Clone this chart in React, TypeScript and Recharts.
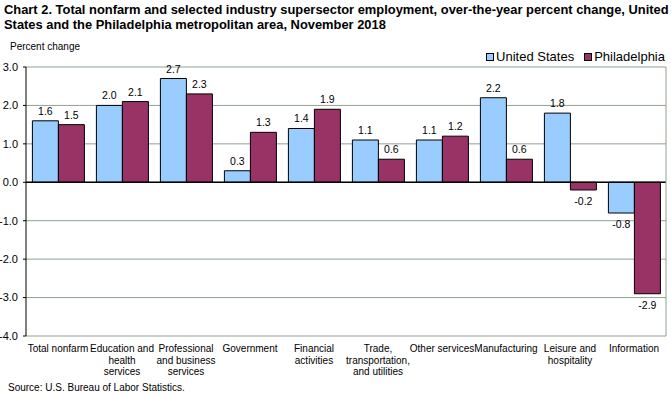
import { BarChart, Bar, XAxis, YAxis, CartesianGrid, ReferenceLine, LabelList } from "recharts";

const categories = [
  ["Total nonfarm"],
  ["Education and", "health", "services"],
  ["Professional", "and business", "services"],
  ["Government"],
  ["Financial", "activities"],
  ["Trade,", "transportation,", "and utilities"],
  ["Other services"],
  ["Manufacturing"],
  ["Leisure and", "hospitality"],
  ["Information"],
];
const unitedStates = [1.6, 2.0, 2.7, 0.3, 1.4, 1.1, 1.1, 2.2, 1.8, -0.8];
const philadelphia = [1.5, 2.1, 2.3, 1.3, 1.9, 0.6, 1.2, 0.6, -0.2, -2.9];
const yTicks = [-4, -3, -2, -1, 0, 1, 2, 3];

const US_COLOR = "#99ccff";
const PHL_COLOR = "#993366";
const GRID = "#8fa38f";
const FONT = "Arial, 'Liberation Sans', sans-serif";

const data = categories.map((c, i) => ({
  name: c.join(" "),
  lines: c,
  us: unitedStates[i],
  phl: philadelphia[i],
}));

function ValueLabel(props: any) {
  const { x, y, width, height, value } = props;
  const top = Math.min(y, y + height);
  const bottom = Math.max(y, y + height);
  const ty = value < 0 ? bottom + 15 : top - 6;
  return (
    <text x={x + width / 2} y={ty} textAnchor="middle" fontSize={10.5} fontFamily={FONT} fill="#000">
      {value.toFixed(1)}
    </text>
  );
}

function CategoryTick(props: any) {
  const { x, y, payload, index } = props;
  const lines = data[index]?.lines ?? [payload.value];
  return (
    <text x={x} y={y} textAnchor="middle" fontSize={10} fontFamily={FONT} fill="#000">
      {lines.map((l: string, i: number) => (
        <tspan key={i} x={x} dy={i === 0 ? 8 : 11.7}>
          {l}
        </tspan>
      ))}
    </text>
  );
}

function ChartLegend() {
  const items = [
    { label: "United States", color: US_COLOR },
    { label: "Philadelphia", color: PHL_COLOR },
  ];
  return (
    <div
      style={{
        position: "absolute",
        right: 6,
        top: 49,
        display: "flex",
        fontFamily: FONT,
        fontSize: 13,
        lineHeight: "15px",
      }}
    >
      {items.map((it) => (
        <div key={it.label} style={{ display: "flex", alignItems: "center", marginLeft: 10 }}>
          <span style={{ width: 6, height: 6, background: it.color, border: "1px solid #000", marginRight: 2 }} />
          {it.label}
        </div>
      ))}
    </div>
  );
}

export default function App() {
  return (
    <div style={{ position: "absolute", left: 0, top: 0, width: 671, height: 397, background: "#fff" }}>
      <div
        style={{
          position: "absolute",
          left: 4,
          top: 2,
          fontFamily: FONT,
          fontWeight: "bold",
          fontSize: 13.5,
          lineHeight: "15px",
          whiteSpace: "nowrap",
          transform: "scaleX(0.955)",
          transformOrigin: "left top",
        }}
      >
        Chart 2. Total nonfarm and selected industry supersector employment, over-the-year percent change, United
        <br />
        States and the Philadelphia metropolitan area, November 2018
      </div>
      <div style={{ position: "absolute", left: 10, top: 41, fontFamily: FONT, fontSize: 10 }}>Percent change</div>
      <div style={{ position: "absolute", left: 8, top: 382, fontFamily: FONT, fontSize: 10 }}>
        Source: U.S. Bureau of Labor Statistics.
      </div>
      <ChartLegend />
      <BarChart
        width={671}
        height={397}
        data={data}
        margin={{ top: 67, right: 0, bottom: 0, left: 0 }}
        barCategoryGap="10%"
        barGap={0}
        style={{ position: "absolute", left: 0, top: 0 }}
      >
        <CartesianGrid vertical={false} stroke={GRID} strokeWidth={1} />
        <XAxis dataKey="name" height={61} axisLine={false} tickLine={false} interval={0} tick={<CategoryTick />} />
        <YAxis
          domain={[-4, 3]}
          ticks={yTicks}
          width={26}
          tickSize={3}
          tickMargin={5}
          axisLine={{ stroke: "#000" }}
          tickLine={{ stroke: "#000" }}
          tick={{ fontSize: 11, fontFamily: FONT, fill: "#000" }}
          tickFormatter={(v: number) => v.toFixed(1)}
        />
        <YAxis
          yAxisId="right"
          orientation="right"
          width={5}
          tick={false}
          tickLine={false}
          axisLine={{ stroke: GRID }}
        />
        <ReferenceLine y={0} stroke="#000" strokeWidth={1.5} />
        <Bar dataKey="us" fill={US_COLOR} stroke="#000" strokeWidth={1} isAnimationActive={false}>
          <LabelList dataKey="us" content={<ValueLabel />} />
        </Bar>
        <Bar dataKey="phl" fill={PHL_COLOR} stroke="#000" strokeWidth={1} isAnimationActive={false}>
          <LabelList dataKey="phl" content={<ValueLabel />} />
        </Bar>
      </BarChart>
    </div>
  );
}
